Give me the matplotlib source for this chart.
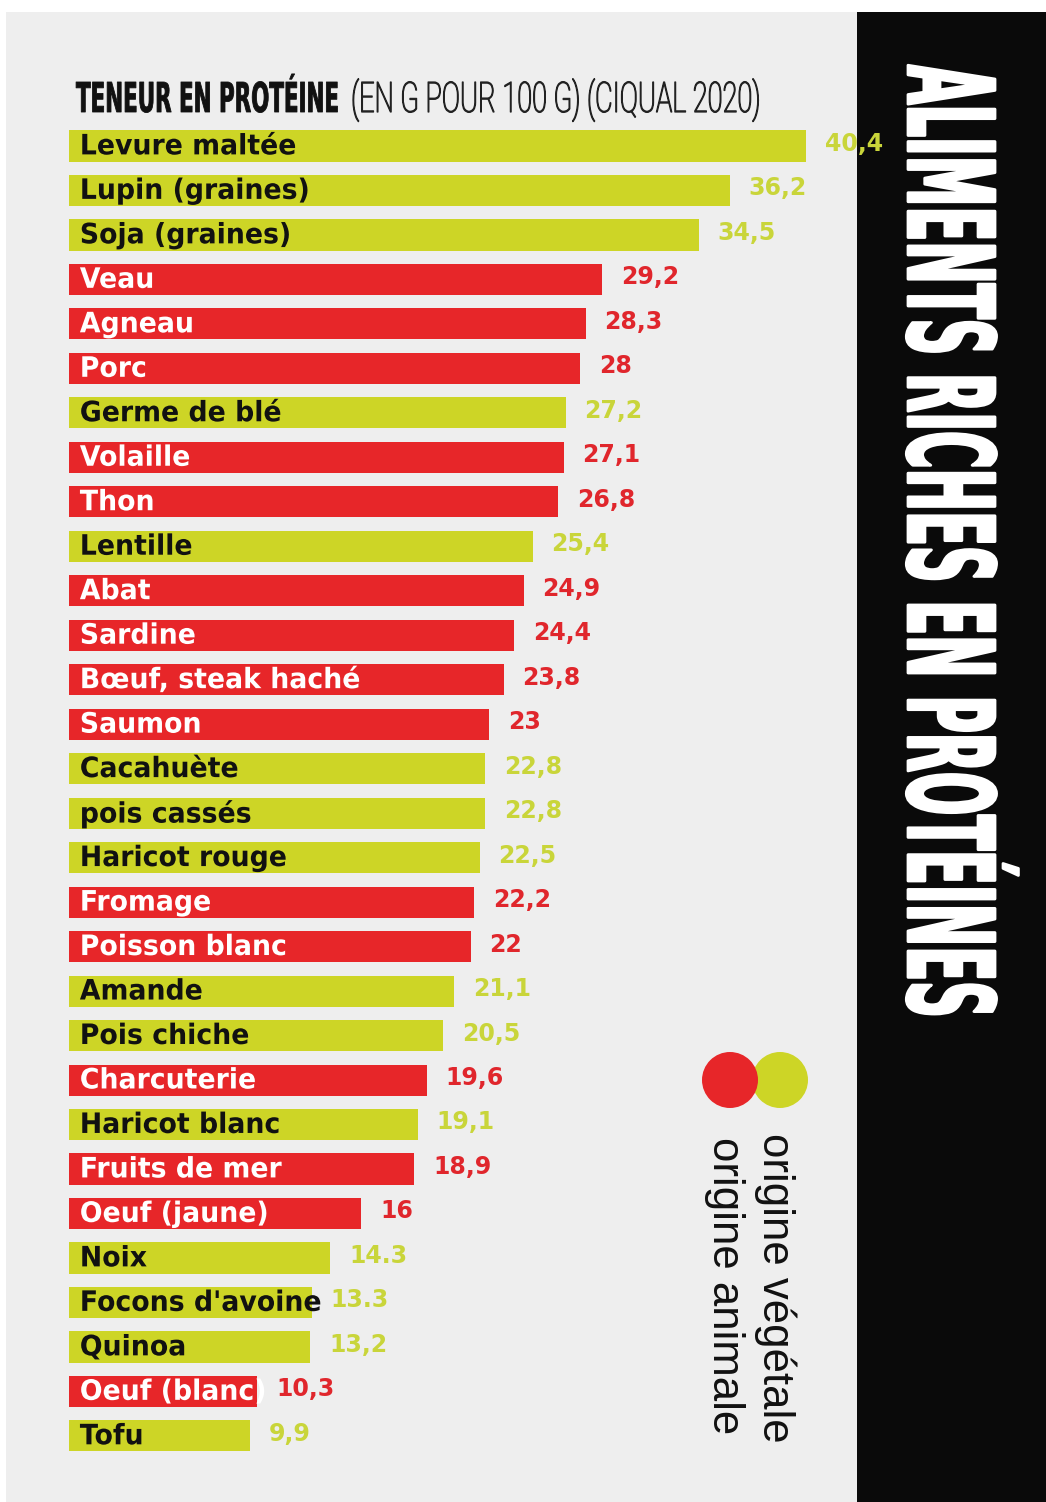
import matplotlib
matplotlib.use("Agg")
import matplotlib.pyplot as plt
from matplotlib import patheffects
from matplotlib.transforms import Affine2D
from matplotlib.patches import Rectangle, Circle

# ---------------- data ----------------
foods = ["Levure maltée", "Lupin (graines)", "Soja (graines)", "Veau", "Agneau", "Porc",
         "Germe de blé", "Volaille", "Thon", "Lentille", "Abat", "Sardine",
         "Bœuf, steak haché", "Saumon", "Cacahuète", "pois cassés", "Haricot rouge",
         "Fromage", "Poisson blanc", "Amande", "Pois chiche", "Charcuterie",
         "Haricot blanc", "Fruits de mer", "Oeuf (jaune)", "Noix", "Focons d'avoine",
         "Quinoa", "Oeuf (blanc)", "Tofu"]
values = [40.4, 36.2, 34.5, 29.2, 28.3, 28.0, 27.2, 27.1, 26.8, 25.4, 24.9, 24.4,
          23.8, 23.0, 22.8, 22.8, 22.5, 22.2, 22.0, 21.1, 20.5, 19.6, 19.1, 18.9,
          16.0, 14.3, 13.3, 13.2, 10.3, 9.9]
value_labels = ["40,4", "36,2", "34,5", "29,2", "28,3", "28", "27,2", "27,1", "26,8",
                "25,4", "24,9", "24,4", "23,8", "23", "22,8", "22,8", "22,5", "22,2",
                "22", "21,1", "20,5", "19,6", "19,1", "18,9", "16", "14.3", "13.3",
                "13,2", "10,3", "9,9"]
origins = ["v", "v", "v", "a", "a", "a", "v", "a", "a", "v", "a", "a", "a", "a", "v",
           "v", "v", "a", "a", "v", "v", "a", "v", "a", "a", "v", "v", "v", "a", "v"]
legend_labels = {"v": "origine végétale", "a": "origine animale"}
title_bold = "TENEUR EN PROTÉINE"
title_light = "(EN G POUR 100 G) (CIQUAL 2020)"
side_title = "ALIMENTS RICHES EN PROTÉINES"

# ---------------- style ----------------
LIME = "#cdd526"
RED = "#e72629"
LIME_TXT = "#c9d53a"
RED_TXT = "#e0262c"
BG = "#eeeeee"
BLACK = "#0a0a0a"
W, H = 1046, 1502


class Stretch(patheffects.AbstractPathEffect):
    """Scale glyphs in the text's own frame (sx along baseline, sy upward)."""
    def __init__(self, sx=1.0, sy=1.0, lw=0.0):
        super().__init__()
        self.sx = sx
        self.sy = sy
        self.lw = lw

    def draw_path(self, renderer, gc, tpath, affine, rgbFace=None):
        gc0 = renderer.new_gc()
        gc0.copy_properties(gc)
        if self.lw > 0 and rgbFace is not None:
            gc0.set_linewidth(self.lw)
            gc0.set_foreground(rgbFace)
        renderer.draw_path(gc0, tpath, Affine2D().scale(self.sx, self.sy) + affine, rgbFace)
        gc0.restore()


fig = plt.figure(figsize=(W / 100, H / 100), dpi=100)
fig.patch.set_facecolor("white")
renderer = fig.canvas.get_renderer()


def natural_width(s, **kw):
    t = fig.text(0, 0, s, **kw)
    w = t.get_window_extent(renderer).width
    t.remove()
    return w


def fit(s, target_w, cap_px, cap_ratio, **kw):
    """Font size giving natural width target_w, and vertical stretch giving cap height."""
    w10 = natural_width(s, fontsize=10, **kw)
    fs = 10 * target_w / w10
    cap_nat = cap_ratio * fs * 100 / 72
    return fs, cap_px / cap_nat


# background / decoration layer in pixel units
bg = fig.add_axes([0, 0, 1, 1], zorder=0)
bg.set_xlim(0, W)
bg.set_ylim(H, 0)
bg.axis("off")
bg.add_patch(Rectangle((6, 12), 851, H - 12, color=BG, lw=0))
bg.add_patch(Rectangle((857, 12), W - 857, H - 12, color=BLACK, lw=0))
bg.add_patch(Circle((780, 1080), 28, color=LIME, lw=0, zorder=2))
bg.add_patch(Circle((730, 1080), 28, color=RED, lw=0, zorder=3))

# ---------------- bars ----------------
px_per_unit = 18.24
x0_px = 69.4
row = 44.48
top_c = 146.0
n = len(values)
ax_left = x0_px / W
ax_right_px = 857
ax_top_px = top_c - row / 2
ax_bot_px = top_c + (n - 1) * row + row / 2
ax = fig.add_axes([ax_left, 1 - ax_bot_px / H, (ax_right_px - x0_px) / W,
                   (ax_bot_px - ax_top_px) / H], zorder=1)
ax.patch.set_alpha(0)
ax.axis("off")
ax.set_xlim(0, (ax_right_px - x0_px) / px_per_unit)
ax.set_ylim(n - 0.5, -0.5)

ypos = list(range(n))
bar_colors = [LIME if o == "v" else RED for o in origins]
ax.barh(ypos, values, height=0.7, color=bar_colors, linewidth=0)

lab_fs, lab_sy = fit(foods[0], 217, 20.5, 0.729, fontweight="bold", family="DejaVu Sans")
for i, (name, v, lab, o) in enumerate(zip(foods, values, value_labels, origins)):
    ax.annotate(name, xy=(0, i), xytext=(7.5, -1), textcoords="offset points",
                ha="left", va="center", fontsize=lab_fs, fontweight="bold",
                family="DejaVu Sans", color="#111111" if o == "v" else "white",
                path_effects=[Stretch(1.0, lab_sy)], annotation_clip=False)
    ax.annotate(lab, xy=(v, i), xytext=(13.5, 1.5), textcoords="offset points",
                ha="left", va="center", fontsize=17, fontweight="bold",
                family="DejaVu Sans", color=LIME_TXT if o == "v" else RED_TXT,
                annotation_clip=False)

# ---------------- titles ----------------
tb_fs, tb_sy = fit(title_bold, 264, 30, 0.729, fontweight="bold", family="DejaVu Sans")
fig.text(76 / W, 1 - 112 / H, title_bold, fontsize=tb_fs, fontweight="bold",
         family="DejaVu Sans", color="#111111", ha="left", va="baseline",
         path_effects=[Stretch(1.0, tb_sy, lw=0.6)])

light_family = ["Roboto", "Lato", "DejaVu Sans"]
tl_fs, tl_sy = fit(title_light, 410, 30, 0.711, fontweight="light", family=light_family)
fig.text(351 / W, 1 - 112 / H, title_light, fontsize=tl_fs, fontweight="light",
         family=light_family, color="#222222", ha="left", va="baseline",
         path_effects=[Stretch(1.0, tl_sy, lw=0.9)])

st_fs, st_sy = fit(side_title, 955, 87, 0.729, fontweight="bold", family="DejaVu Sans")
fig.text(908 / W, 1 - 65 / H, side_title, fontsize=st_fs, fontweight="bold",
         family="DejaVu Sans", color="white", rotation=270, rotation_mode="anchor",
         ha="left", va="baseline", path_effects=[Stretch(1.0, st_sy, lw=2.0)])

# ---------------- legend text ----------------
fig.text(763 / W, 1 - 1133 / H, legend_labels["v"], fontsize=31.5,
         family=["Liberation Sans", "DejaVu Sans"], color="#111111", rotation=270,
         rotation_mode="anchor", ha="left", va="baseline")
fig.text(713 / W, 1 - 1137 / H, legend_labels["a"], fontsize=31.5,
         family=["Liberation Sans", "DejaVu Sans"], color="#111111", rotation=270,
         rotation_mode="anchor", ha="left", va="baseline")

fig.savefig("out.png", dpi=100, facecolor="white")
